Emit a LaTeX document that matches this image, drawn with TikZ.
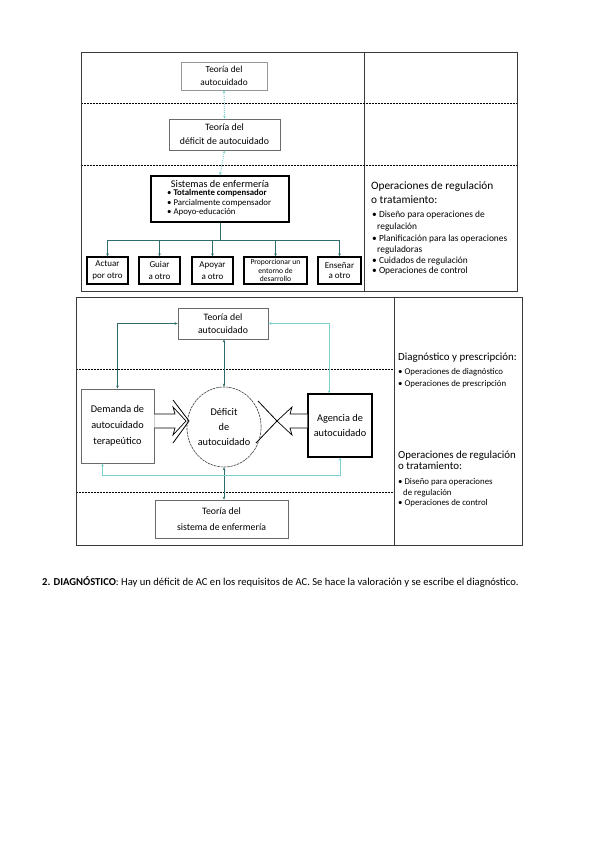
\documentclass[tikz,border=0pt]{standalone}
\usepackage{fontspec}
\setmainfont{Carlito}
\usetikzlibrary{arrows.meta,shapes.geometric}
\definecolor{tealD}{HTML}{2E6B6B}
\definecolor{tealL}{HTML}{7ACFCF}
\definecolor{frameC}{HTML}{3A3A3A}
\definecolor{boxG}{HTML}{6A6A6A}
\newcommand{\fsz}[2]{\fontsize{#1}{#2}\selectfont}
\tikzset{
  panel/.style={draw=frameC, line width=0.9pt},
  sepline/.style={draw=black, line width=0.8pt, dash pattern=on 0.8pt off 0.7pt},
  boxA/.style={draw=boxG, line width=0.8pt, fill=white, align=center, inner sep=0pt},
  boxB/.style={draw=black, line width=1.2pt, fill=white, align=center, inner sep=0pt},
  txt/.style={inner sep=0pt, anchor=west},
  conD/.style={draw=tealD, line width=0.8pt},
  conL/.style={draw=tealL, line width=0.8pt},
  tipS/.style={-{Stealth[length=3pt,width=2.6pt]}},
  tipB/.style={{Stealth[length=3pt,width=2.6pt]}-{Stealth[length=3pt,width=2.6pt]}},
  hollow/.style={draw=black, line width=0.7pt, fill=white, line join=miter},
  chev/.style={draw=black, line width=0.8pt}
}
\begin{document}
\begin{tikzpicture}[x=1pt,y=-1pt]
\useasboundingbox[fill=white] (0,0) rectangle (599,848);

% ===== top panel =====
\draw[panel] (81,52) rectangle (517,291);
\draw[panel] (364,52) -- (364,291);
\draw[sepline] (82,103) -- (516,103);
\draw[sepline] (82,165) -- (516,165);

\node[boxA, draw=boxG!70, minimum width=86pt, minimum height=28pt, font=\fsz{9.3}{13}] (t1) at (224,76)
  {Teoría del\\autocuidado};
\node[boxA, minimum width=111pt, minimum height=31pt, font=\fsz{9.8}{14}] (t2) at (224.5,134.5)
  {Teoría del\\déficit de autocuidado};
\node[boxB, minimum width=138pt, minimum height=46pt] (sis) at (220,199) {};
\node[inner sep=0pt, font=\fsz{10.3}{11}] (sist) at (220,184) {Sistemas de enfermería};
\node[txt, font=\fsz{8.8}{9}] (sb1) at (167,193) {• \textbf{Totalmente compensador}};
\node[txt, font=\fsz{8.8}{9}] (sb2) at (167,203) {• Parcialmente compensador};
\node[txt, font=\fsz{8.8}{9}] (sb3) at (167,212) {• Apoyo-educación};

\draw[conL, tipB, dash pattern=on 1pt off 1pt] (t2.north) -- (t1.south);
\draw[conL, tipB, dash pattern=on 1pt off 1pt] (t2.south) -- (sis.north);

\node[boxB, minimum width=41pt, minimum height=27pt, font=\fsz{9}{11.5}] (b1) at (107.5,270.5)
  {Actuar\\por otro};
\node[boxB, minimum width=41pt, minimum height=27pt, font=\fsz{9}{11.5}] (b2) at (159.5,270.5)
  {Guiar\\a otro};
\node[boxB, minimum width=41pt, minimum height=27pt, font=\fsz{9}{11.5}] (b3) at (212.5,270.5)
  {Apoyar\\a otro};
\node[boxB, minimum width=63pt, minimum height=27pt, font=\fsz{7.6}{8.6}] (b4) at (275.5,270.5)
  {Proporcionar un\\entorno de\\desarrollo};
\node[boxB, minimum width=43pt, minimum height=27pt, font=\fsz{9}{10.5}] (b5) at (339.5,270.5)
  {Enseñar\\a otro};

\coordinate (bj) at (220,240);
\draw[conD] (sis.south) -- (bj);
\draw[conD] (b1.north |- bj) -- (b5.north |- bj);
\foreach \b in {b1,b2,b3,b4,b5}{
  \draw[conD, tipS] (\b.north |- bj) -- (\b.north);
}

\node[txt, font=\fsz{11.3}{12}] (r1) at (371,187) {Operaciones de regulación};
\node[txt, font=\fsz{11.3}{12}] (r2) at (371,200) {o tratamiento:};
\node[txt, font=\fsz{9.4}{10}] (r3) at (372,215) {• Diseño para operaciones de};
\node[txt, font=\fsz{9.4}{10}] (r4) at (377,227) {regulación};
\node[txt, font=\fsz{9.4}{10}] (r5) at (372,239) {• Planificación para las operaciones};
\node[txt, font=\fsz{9.4}{10}] (r6) at (377,250) {reguladoras};
\node[txt, font=\fsz{9.4}{10}] (r7) at (372,261) {• Cuidados de regulación};
\node[txt, font=\fsz{9.4}{10}] (r8) at (372,271) {• Operaciones de control};

% ===== bottom panel =====
\draw[panel] (76,297) rectangle (522,545);
\draw[panel] (394,297) -- (394,545);
\draw[sepline] (77,369) -- (393,369);
\draw[sepline] (77,492) -- (393,492);

\node[boxA, minimum width=90pt, minimum height=31pt, font=\fsz{9.8}{13}] (u1) at (223,323.5)
  {Teoría del\\autocuidado};
\node[boxA, line width=0.9pt, minimum width=73pt, minimum height=74pt, font=\fsz{10.3}{16}] (dem) at (117.5,426)
  {Demanda de\\autocuidado\\terapeútico};
\node[draw=frameC, line width=0.6pt, dash pattern=on 2.5pt off 0.8pt, ellipse,
  minimum width=70pt, minimum height=80pt, inner sep=0pt, align=center, font=\fsz{10.3}{15}] (circ) at (224,427)
  {Déficit\\de\\autocuidado};
\node[boxB, line width=1.4pt, minimum width=64pt, minimum height=63pt, font=\fsz{10.3}{15}] (age) at (340,425.5)
  {Agencia de\\autocuidado};
\node[boxA, minimum width=133pt, minimum height=38pt, font=\fsz{9.8}{16}] (u3) at (221.5,519)
  {Teoría del\\sistema de enfermería};

\draw[conD, tipB] (u1.west) -| (dem.north);
\draw[conL, tipB] (u1.east) -| ([xshift=-11pt]age.north);
\draw[conD, tipB] (u1.south -| circ.north) -- (circ.north);
\draw[conD, tipB] (circ.south) -- (circ.south |- u3.north);
\coordinate (fb) at (220,475);
\draw[conL, tipB] ([xshift=-15pt]dem.south) -- ([xshift=-15pt]dem.south |- fb) -| (age.south);

% hollow arrows and chevrons
\draw[hollow] (dem.east |- 0,414) -- (175,414) -- (173,407) -- (186,421) -- (173,435) -- (175,428) -- (dem.east |- 0,428) ;
\draw[chev] (173,400) -- (189,421) -- (173,443);
\draw[hollow] (age.west |- 0,414) -- (290,414) -- (292,407) -- (277,421) -- (292,435) -- (290,428) -- (age.west |- 0,428);
\draw[chev] (258,401) -- (277,421) -- (256,443);

\node[txt, font=\fsz{10.9}{11}] (d1) at (398,358) {Diagnóstico y prescripción:};
\node[txt, font=\fsz{8.8}{9}] (d2) at (398,372) {• Operaciones de diagnóstico};
\node[txt, font=\fsz{8.8}{9}] (d3) at (398,384) {• Operaciones de prescripción};
\node[txt, font=\fsz{10.9}{11}] (d4) at (398,456) {Operaciones de regulación};
\node[txt, font=\fsz{10.9}{11}] (d5) at (398,466) {o tratamiento:};
\node[txt, font=\fsz{8.8}{9}] (d6) at (398,482) {• Diseño para operaciones};
\node[txt, font=\fsz{8.8}{9}] (d7) at (403,493) {de regulación};
\node[txt, font=\fsz{8.8}{9}] (d8) at (398,503) {• Operaciones de control};

% caption
\node[txt, font=\fsz{10.6}{11}] (cap) at (42,582) {\textbf{2. DIAGNÓSTICO}: Hay un déficit de AC en los requisitos de AC. Se hace la valoración y se escribe el diagnóstico.};
\end{tikzpicture}
\end{document}
